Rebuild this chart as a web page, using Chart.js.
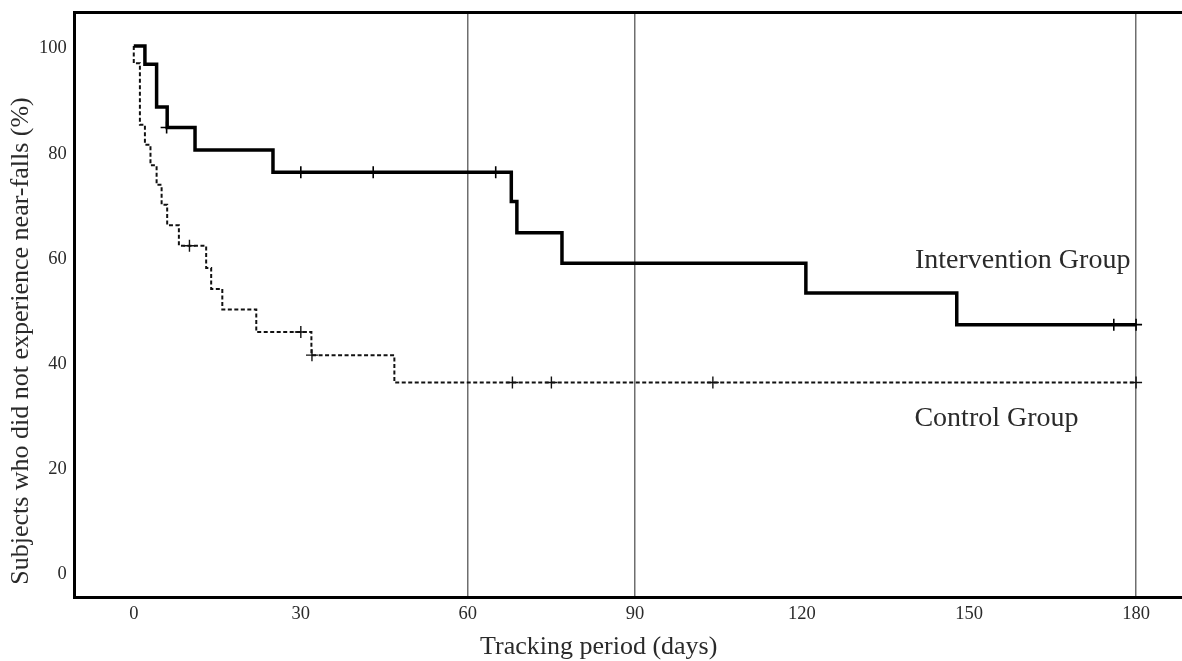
<!DOCTYPE html>
<html>
<head>
<meta charset="utf-8">
<script src="https://cdn.jsdelivr.net/npm/chart.js@4/dist/chart.umd.min.js"></script>
<style>
  html, body { margin: 0; padding: 0; background: #fff; overflow: hidden; }
  #wrap { width: 1182px; height: 661px; position: relative; }
</style>
</head>
<body>
<div id="wrap"><canvas id="c"></canvas></div>
<script>
// ---- data ----
const xTickValues = [0, 30, 60, 90, 120, 150, 180];
const yTickValues = [0, 20, 40, 60, 80, 100];
const gridDays = [60, 90, 180];

// Intervention group: step points (day, % after the event)
const interventionDays = [0, 2, 4.1, 6, 11, 25, 67.8, 68.8, 76.9, 120.7, 147.8, 180];
const interventionPct  = [100, 96.5, 88.4, 84.5, 80.2, 76.0, 70.4, 64.5, 58.7, 53.0, 47.0, 47.0];
const interventionCensorDays = [5.9, 30, 43, 65, 176, 180];
const interventionCensorPct  = [84.5, 76.0, 76.0, 76.0, 47.0, 47.0];

// Control group
const controlDays = [0, 0, 1.1, 2, 3, 4.1, 5, 6, 8.1, 13, 13.9, 15.9, 22, 31.9, 46.8, 180];
const controlPct  = [100, 96.7, 85.0, 81.2, 77.3, 73.6, 69.8, 65.9, 62.0, 57.8, 53.8, 49.9, 45.6, 41.2, 36.0, 36.0];
const controlCensorDays = [10, 30, 32, 68, 75, 104, 180];
const controlCensorPct  = [62.0, 45.6, 41.2, 36.0, 36.0, 36.0, 36.0];

const groupLabels = ['Intervention Group', 'Control Group'];
const groupLabelDays = [140.3, 140.2];
const groupLabelPct = [57.8, 27.8];

const xTitle = 'Tracking period (days)';
const yTitle = 'Subjects who did not experience near-falls (%)';
const xTitleCenterDay = 83.5;

// ---- helpers ----
const pts = (xs, ys) => xs.map((x, i) => ({ x: x, y: ys[i] }));
const serif = "'Liberation Serif', 'DejaVu Serif', 'Times New Roman', serif";
const textColor = '#2a2a2a';

const labelPlugin = {
  id: 'groupLabels',
  afterDatasetsDraw(chart) {
    const { ctx, scales, chartArea } = chart;
    ctx.save();
    ctx.font = '28px ' + serif;
    ctx.fillStyle = textColor;
    ctx.textAlign = 'left';
    ctx.textBaseline = 'alphabetic';
    groupLabels.forEach((t, i) => {
      ctx.fillText(t, scales.x.getPixelForValue(groupLabelDays[i]), scales.y.getPixelForValue(groupLabelPct[i]));
    });
    // x-axis title
    ctx.font = '26px ' + serif;
    ctx.textAlign = 'center';
    ctx.fillText(xTitle, scales.x.getPixelForValue(xTitleCenterDay), chart.height - 7);
    // y-axis title (rotated, starting near the bottom of the axis)
    ctx.textAlign = 'left';
    ctx.textBaseline = 'middle';
    ctx.translate(scales.y.left - 10, chartArea.bottom - 13);
    ctx.rotate(-Math.PI / 2);
    ctx.fillText(yTitle, 0, 0);
    ctx.restore();
  }
};

const xMin = -10.6, xMax = 188.25;
const noPadH = s => { s.paddingLeft = 0; s.paddingRight = 0; };
const noPadV = s => { s.paddingTop = 0; s.paddingBottom = 0; };

new Chart(document.getElementById('c'), {
  type: 'scatter',
  data: {
    datasets: [
      {
        label: 'Intervention Group',
        data: pts(interventionDays, interventionPct),
        showLine: true,
        stepped: true,
        borderColor: '#000',
        borderWidth: 3.5,
        pointRadius: 0,
        fill: false
      },
      {
        label: 'Intervention censored',
        data: pts(interventionCensorDays, interventionCensorPct),
        showLine: false,
        pointStyle: 'cross',
        pointRadius: 6,
        borderColor: '#000',
        borderWidth: 1.6
      },
      {
        label: 'Control Group',
        data: pts(controlDays, controlPct),
        showLine: true,
        stepped: true,
        borderColor: '#111',
        borderWidth: 2,
        borderDash: [4, 2.5],
        pointRadius: 0,
        fill: false
      },
      {
        label: 'Control censored',
        data: pts(controlCensorDays, controlCensorPct),
        showLine: false,
        pointStyle: 'cross',
        pointRadius: 6,
        borderColor: '#111',
        borderWidth: 1.4
      }
    ]
  },
  options: {
    responsive: true,
    maintainAspectRatio: false,
    animation: false,
    layout: { autoPadding: false, padding: { top: 12, right: 0, bottom: 31, left: 31 } },
    plugins: {
      legend: { display: false },
      tooltip: { enabled: false }
    },
    scales: {
      x: {
        type: 'linear',
        position: 'bottom',
        min: xMin,
        max: xMax,
        afterBuildTicks: s => { s.ticks = xTickValues.map(v => ({ value: v })); },
        afterFit: noPadH,
        ticks: {
          color: textColor,
          font: { family: serif, size: 18.5 },
          padding: 5,
          maxRotation: 0,
          autoSkip: false
        },
        grid: {
          display: true,
          drawTicks: false,
          color: c => (c.tick && gridDays.includes(c.tick.value)) ? '#6e6e6e' : 'rgba(0,0,0,0)',
          lineWidth: 1.5
        },
        border: { display: true, color: '#000', width: 3 },
        title: { display: false }
      },
      xTop: {
        type: 'linear',
        position: 'top',
        min: xMin,
        max: xMax,
        afterFit: s => { noPadH(s); noPadV(s); },
        ticks: { display: false },
        grid: { display: false, drawTicks: false },
        border: { display: true, color: '#000', width: 3 }
      },
      y: {
        type: 'linear',
        min: -4.94,
        max: 106.46,
        afterBuildTicks: s => { s.ticks = yTickValues.map(v => ({ value: v })); },
        afterFit: noPadV,
        ticks: {
          color: textColor,
          font: { family: serif, size: 18.5 },
          padding: 8,
          labelOffset: 2.5
        },
        grid: { display: false, drawTicks: false },
        border: { display: true, color: '#000', width: 3 },
        title: { display: false }
      }
    }
  },
  plugins: [labelPlugin]
});
</script>
</body>
</html>
